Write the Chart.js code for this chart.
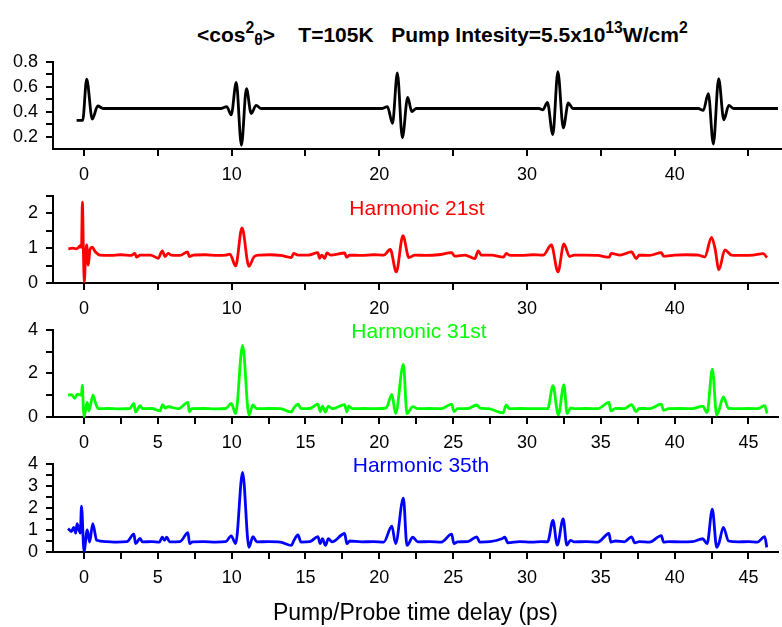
<!DOCTYPE html>
<html>
<head>
<meta charset="utf-8">
<script src="https://cdn.jsdelivr.net/npm/chart.js@4.4.0/dist/chart.umd.min.js"></script>
<style>
  body { margin: 0; background: #fff; }
  #pagina { position: relative; width: 782px; height: 627px; font-family: "Liberation Sans", Arial, sans-serif; overflow: hidden; }
  .panel { position: absolute; left: 0; }
  .etiqueta { position: absolute; width: 300px; text-align: center; font-size: 21px; line-height: 21px; }
  #titulo { position: absolute; left: 197px; top: 24px; font-weight: bold; font-size: 21px; line-height: 21px; white-space: pre; }
  #titulo sup { font-size: 0.75em; position: relative; top: -0.55em; vertical-align: baseline; }
  #titulo sub { font-size: 0.75em; position: relative; top: 0.2em; vertical-align: baseline; }
</style>
</head>
<body>
<div id="pagina">
  <div id="titulo">&lt;cos<sup>2</sup><sub>θ</sub>&gt;    T=105K   Pump Intesity=5.5x10<sup>13</sup>W/cm<sup>2</sup></div>
  <canvas id="panelCos" class="panel"></canvas>
  <canvas id="panel21" class="panel"></canvas>
  <canvas id="panel31" class="panel"></canvas>
  <canvas id="panel35" class="panel"></canvas>
  <div class="etiqueta" style="left:267px; top:197px; color:#ff0000;">Harmonic 21st</div>
  <div class="etiqueta" style="left:269px; top:320px; color:#00ff00;">Harmonic 31st</div>
  <div class="etiqueta" style="left:271px; top:454px; color:#0000ff;">Harmonic 35th</div>
</div>
<script>
// <cos^2 theta>
const tCos = [-0.5, -0.09, 0.18, 0.56, 0.93, 1.3,
  9.3, 9.66, 9.97, 10.31, 10.66, 11.0, 11.32, 11.66, 12.0,
  20.2, 20.55, 20.89, 21.22, 21.56, 21.92, 22.2, 22.5,
  30.8, 31.08, 31.38, 31.75, 32.09, 32.46, 32.8, 33.1,
  41.6, 41.94, 42.28, 42.62, 42.98, 43.33, 43.67, 44.0, 47.0];
const vCos = [0.33, 0.33, 0.66, 0.34, 0.445, 0.425,
  0.425, 0.44, 0.375, 0.635, 0.13, 0.585, 0.385, 0.45, 0.425,
  0.425, 0.44, 0.305, 0.71, 0.19, 0.515, 0.40, 0.425,
  0.425, 0.415, 0.475, 0.215, 0.72, 0.27, 0.47, 0.425,
  0.425, 0.41, 0.545, 0.14, 0.665, 0.335, 0.45, 0.425, 0.425];

// Harmonic 21st
const t21 = [-1.06, -0.8, -0.55, -0.38, -0.27, -0.17, -0.11, -0.04, 0.02, 0.1,
  0.18, 0.29, 0.4, 0.56, 0.74, 1.08, 1.8, 2.5, 3.2, 3.45,
  3.56, 3.8, 4.5, 5.03, 5.3, 5.48, 5.7, 5.9, 6.5, 7.02,
  7.13, 7.4, 8.2, 9.0, 9.6, 9.88, 10.27, 10.7, 11.17, 11.53,
  11.9, 12.6, 13.3, 14.04, 14.2, 14.5, 15.2, 15.84, 15.95, 16.1,
  16.3, 16.45, 16.7, 17.65, 17.78, 18.0, 18.8, 19.6, 20.3, 20.74,
  21.15, 21.6, 22.0, 22.4, 23.2, 24.0, 24.9, 25.1, 25.8, 26.47,
  26.7, 26.9, 27.6, 28.4, 28.6, 28.8, 29.6, 30.4, 31.1, 31.65,
  32.1, 32.5, 32.88, 33.2, 34.0, 34.8, 35.57, 35.7, 36.3, 37.08,
  37.4, 37.6, 38.3, 39.1, 39.25, 40.0, 40.8, 41.6, 42.04, 42.5,
  42.73, 43.0, 43.4, 43.85, 44.6, 45.3, 46.0, 46.26];
const v21 = [0.98, 1.0, 0.98, 1.01, 1.07, 1.02, 2.32, 0.9, 0.04, 0.7,
  1.09, 0.51, 0.95, 1.03, 0.91, 0.8, 0.79, 0.81, 0.79, 0.85,
  0.74, 0.8, 0.8, 0.71, 0.92, 0.76, 0.85, 0.8, 0.79, 0.89,
  0.76, 0.8, 0.81, 0.79, 0.8, 0.83, 0.49, 1.58, 0.48, 0.76,
  0.8, 0.81, 0.79, 0.73, 0.85, 0.8, 0.8, 0.87, 0.71, 0.8,
  0.71, 0.86, 0.8, 0.86, 0.74, 0.8, 0.79, 0.81, 0.8, 0.96,
  0.32, 1.36, 0.73, 0.8, 0.79, 0.81, 0.87, 0.77, 0.8, 0.7,
  0.92, 0.8, 0.8, 0.74, 0.85, 0.8, 0.79, 0.81, 0.8, 1.09,
  0.32, 1.12, 0.76, 0.8, 0.8, 0.79, 0.74, 0.85, 0.8, 0.89,
  0.7, 0.8, 0.79, 0.87, 0.77, 0.8, 0.81, 0.8, 0.75, 1.31,
  1.0, 0.38, 0.95, 0.8, 0.79, 0.8, 0.84, 0.73];

// Harmonic 31st
const t31 = [-1.08, -0.85, -0.63, -0.45, -0.3, -0.18, -0.11, -0.05, 0.0, 0.22,
  0.33, 0.61, 0.8, 0.98, 1.6, 2.4, 3.1, 3.38, 3.49, 3.8,
  3.95, 4.6, 5.15, 5.33, 5.5, 5.7, 6.4, 7.04, 7.13, 7.3,
  8.1, 8.9, 9.6, 9.97, 10.27, 10.74, 11.17, 11.44, 11.7, 12.5,
  13.3, 14.04, 14.2, 14.49, 14.7, 15.3, 15.84, 16.0, 16.15, 16.35,
  16.55, 16.8, 17.65, 17.8, 17.93, 18.2, 19.0, 19.8, 20.47, 20.85,
  21.1, 21.63, 21.87, 22.27, 22.6, 23.4, 24.2, 24.9, 25.05, 25.3,
  26.0, 26.6, 26.8, 27.4, 28.38, 28.6, 28.8, 29.6, 30.4, 31.4,
  31.76, 32.12, 32.5, 32.72, 32.95, 33.2, 34.0, 34.8, 35.55, 35.68,
  36.0, 36.6, 37.08, 37.4, 37.6, 38.3, 39.1, 39.25, 39.6, 40.4,
  41.2, 41.9, 42.2, 42.55, 42.85, 43.0, 43.3, 43.65, 44.3, 45.0,
  45.6, 46.1, 46.26];
const v31 = [1.0, 1.03, 0.86, 1.05, 1.02, 1.0, 1.46, 0.5, 0.02, 0.67,
  0.28, 1.0, 0.6, 0.38, 0.39, 0.37, 0.39, 0.62, 0.22, 0.52,
  0.38, 0.39, 0.28, 0.57, 0.4, 0.47, 0.38, 0.67, 0.24, 0.38,
  0.39, 0.37, 0.39, 0.62, 0.16, 3.29, 0.09, 0.55, 0.38, 0.39,
  0.38, 0.23, 0.4, 0.59, 0.38, 0.39, 0.59, 0.25, 0.5, 0.23,
  0.5, 0.38, 0.57, 0.23, 0.5, 0.38, 0.39, 0.38, 0.42, 1.04,
  0.16, 2.41, 0.16, 0.48, 0.38, 0.39, 0.38, 0.59, 0.25, 0.38,
  0.39, 0.55, 0.42, 0.38, 0.19, 0.55, 0.38, 0.39, 0.38, 0.38,
  1.44, 0.1, 1.47, 0.16, 0.42, 0.38, 0.39, 0.38, 0.67, 0.28,
  0.4, 0.38, 0.57, 0.25, 0.4, 0.38, 0.59, 0.3, 0.38, 0.39,
  0.38, 0.5, 0.2, 2.2, 0.09, 0.3, 0.92, 0.4, 0.38, 0.39,
  0.38, 0.52, 0.16];

// Harmonic 35th
const t35 = [-1.08, -0.86, -0.7, -0.56, -0.47, -0.34, -0.25, -0.17, 0.0, 0.22,
  0.38, 0.59, 0.86, 1.5, 2.2, 2.9, 3.38, 3.49, 3.8, 3.95,
  4.6, 5.1, 5.3, 5.45, 5.6, 5.8, 6.5, 7.04, 7.15, 7.35,
  8.1, 8.9, 9.6, 9.97, 10.27, 10.74, 11.17, 11.44, 11.7, 12.5,
  13.3, 14.04, 14.2, 14.49, 14.7, 15.3, 15.84, 16.0, 16.15, 16.35,
  16.55, 16.8, 17.65, 17.8, 18.0, 18.8, 19.6, 20.3, 20.85, 21.1,
  21.63, 21.87, 22.27, 22.6, 23.4, 24.2, 24.9, 25.05, 25.3, 26.0,
  26.6, 26.8, 27.5, 28.3, 28.5, 28.7, 29.5, 30.3, 31.0, 31.4,
  31.76, 32.05, 32.45, 32.7, 32.95, 33.2, 34.0, 34.8, 35.55, 35.68,
  36.0, 36.6, 37.08, 37.3, 37.6, 38.3, 39.1, 39.25, 39.6, 40.4,
  41.2, 41.9, 42.2, 42.55, 42.85, 43.0, 43.3, 43.65, 44.3, 45.0,
  45.6, 46.1, 46.24];
const v35 = [1.07, 0.93, 1.12, 0.86, 1.29, 1.0, 0.86, 2.08, 0.03, 1.0,
  0.45, 1.29, 0.53, 0.47, 0.45, 0.47, 0.81, 0.38, 0.62, 0.46,
  0.47, 0.45, 0.67, 0.53, 0.67, 0.46, 0.47, 0.88, 0.38, 0.46,
  0.47, 0.45, 0.47, 0.73, 0.38, 3.61, 0.21, 0.7, 0.46, 0.47,
  0.45, 0.3, 0.5, 0.77, 0.45, 0.47, 0.7, 0.38, 0.6, 0.3,
  0.6, 0.46, 0.84, 0.38, 0.5, 0.46, 0.47, 0.45, 1.17, 0.38,
  2.44, 0.3, 0.67, 0.46, 0.47, 0.45, 0.81, 0.38, 0.46, 0.47,
  0.69, 0.45, 0.47, 0.6, 0.67, 0.42, 0.47, 0.45, 0.47, 0.46,
  1.43, 0.31, 1.5, 0.31, 0.53, 0.46, 0.47, 0.45, 0.84, 0.45,
  0.5, 0.46, 0.69, 0.42, 0.47, 0.45, 0.74, 0.45, 0.47, 0.46,
  0.47, 0.6, 0.38, 1.94, 0.21, 0.4, 1.12, 0.5, 0.46, 0.47,
  0.45, 0.7, 0.21];

// ticks y etiquetas
const xTicksA = [0, 5, 10, 15, 20, 25, 30, 35, 40, 45];
const xLabelsA = ["0", "", "10", "", "20", "", "30", "", "40", ""];
const xTicksB = [0, 2.5, 5, 7.5, 10, 12.5, 15, 17.5, 20, 22.5, 25, 27.5, 30, 32.5, 35, 37.5, 40, 42.5, 45];
const xLabelsB = ["0", "", "5", "", "10", "", "15", "", "20", "", "25", "", "30", "", "35", "", "40", "", "45"];
const yTicksCos = [0.2, 0.3, 0.4, 0.5, 0.6, 0.7, 0.8];
const yLabelsCos = ["0.2", "", "0.4", "", "0.6", "", "0.8"];
const yTicks21 = [0, 0.5, 1, 1.5, 2, 2.5];
const yLabels21 = ["0", "", "1", "", "2", ""];
const yTicks31 = [0, 1, 2, 3, 4];
const yLabels31 = ["0", "", "2", "", "4"];
const yTicks35 = [0, 0.5, 1, 1.5, 2, 2.5, 3, 3.5, 4];
const yLabels35 = ["0", "", "1", "", "2", "", "3", "", "4"];
const xTitulo = "Pump/Probe time delay (ps)";

const FUENTE = "'Liberation Sans', Arial, sans-serif";
const PAD_TOP = 14;
Chart.defaults.font.family = FUENTE;

function crearPanel(id, t, v, color, cfg) {
  const canvas = document.getElementById(id);
  const alturaArea = cfg.bottom - cfg.top;
  canvas.width = 782;
  canvas.height = PAD_TOP + alturaArea + cfg.xAltura;
  canvas.style.top = (cfg.top - PAD_TOP) + "px";

  return new Chart(canvas.getContext("2d"), {
    type: "line",
    data: {
      datasets: [
        {
          data: t.map((x, i) => ({ x: x, y: v[i] })),
          borderColor: color,
          borderWidth: 2.8,
          pointRadius: 0,
          cubicInterpolationMode: "monotone",
          clip: 6,
        },
      ],
    },
    options: {
      responsive: false,
      animation: false,
      layout: { padding: { top: PAD_TOP, right: cfg.derecha, left: 0, bottom: 0 } },
      plugins: { legend: { display: false }, tooltip: { enabled: false } },
      scales: {
        x: {
          type: "linear",
          min: -2.1,
          max: cfg.xMax,
          afterBuildTicks: (s) => { s.ticks = cfg.xTicks.map((value) => ({ value })); },
          afterFit: (s) => { s.height = cfg.xAltura; },
          ticks: {
            autoSkip: false,
            maxRotation: 0,
            padding: 8,
            color: "#000",
            font: { size: 18 },
            callback: (val, i) => cfg.xLabels[i],
          },
          grid: { drawOnChartArea: false, tickLength: 7, color: "#000", lineWidth: 2 },
          border: { color: "#000", width: 2 },
          title: cfg.titulo
            ? { display: true, text: cfg.titulo, color: "#000", font: { size: 23 }, padding: { top: 0, bottom: 0 } }
            : { display: false },
        },
        y: {
          min: cfg.yMin,
          max: cfg.yMax,
          afterBuildTicks: (s) => { s.ticks = cfg.yTicks.map((value) => ({ value })); },
          afterFit: (s) => { s.width = 53; },
          ticks: {
            autoSkip: false,
            padding: 8,
            color: "#000",
            font: { size: 18 },
            callback: (val, i) => cfg.yLabels[i],
          },
          grid: { drawOnChartArea: false, tickLength: 7, color: "#000", lineWidth: 2 },
          border: { color: "#000", width: 2 },
        },
      },
    },
  });
}

crearPanel("panelCos", tCos, vCos, "#000000", {
  top: 57, bottom: 149, xAltura: 40, yMin: 0.1, yMax: 0.8, xMax: 47.27, derecha: 0,
  yTicks: yTicksCos, yLabels: yLabelsCos, xTicks: xTicksA, xLabels: xLabelsA,
});
crearPanel("panel21", t21, v21, "#ff0000", {
  top: 191, bottom: 283, xAltura: 40, yMin: 0, yMax: 2.5, xMax: 47, derecha: 4,
  yTicks: yTicks21, yLabels: yLabels21, xTicks: xTicksA, xLabels: xLabelsA,
});
crearPanel("panel31", t31, v31, "#00ff00", {
  top: 325, bottom: 417, xAltura: 40, yMin: 0, yMax: 4, xMax: 47, derecha: 4,
  yTicks: yTicks31, yLabels: yLabels31, xTicks: xTicksB, xLabels: xLabelsB,
});
crearPanel("panel35", t35, v35, "#0000ff", {
  top: 459, bottom: 552, xAltura: 75, yMin: 0, yMax: 4, xMax: 47, derecha: 4,
  yTicks: yTicks35, yLabels: yLabels35, xTicks: xTicksB, xLabels: xLabelsB, titulo: xTitulo,
});
</script>
</body>
</html>
